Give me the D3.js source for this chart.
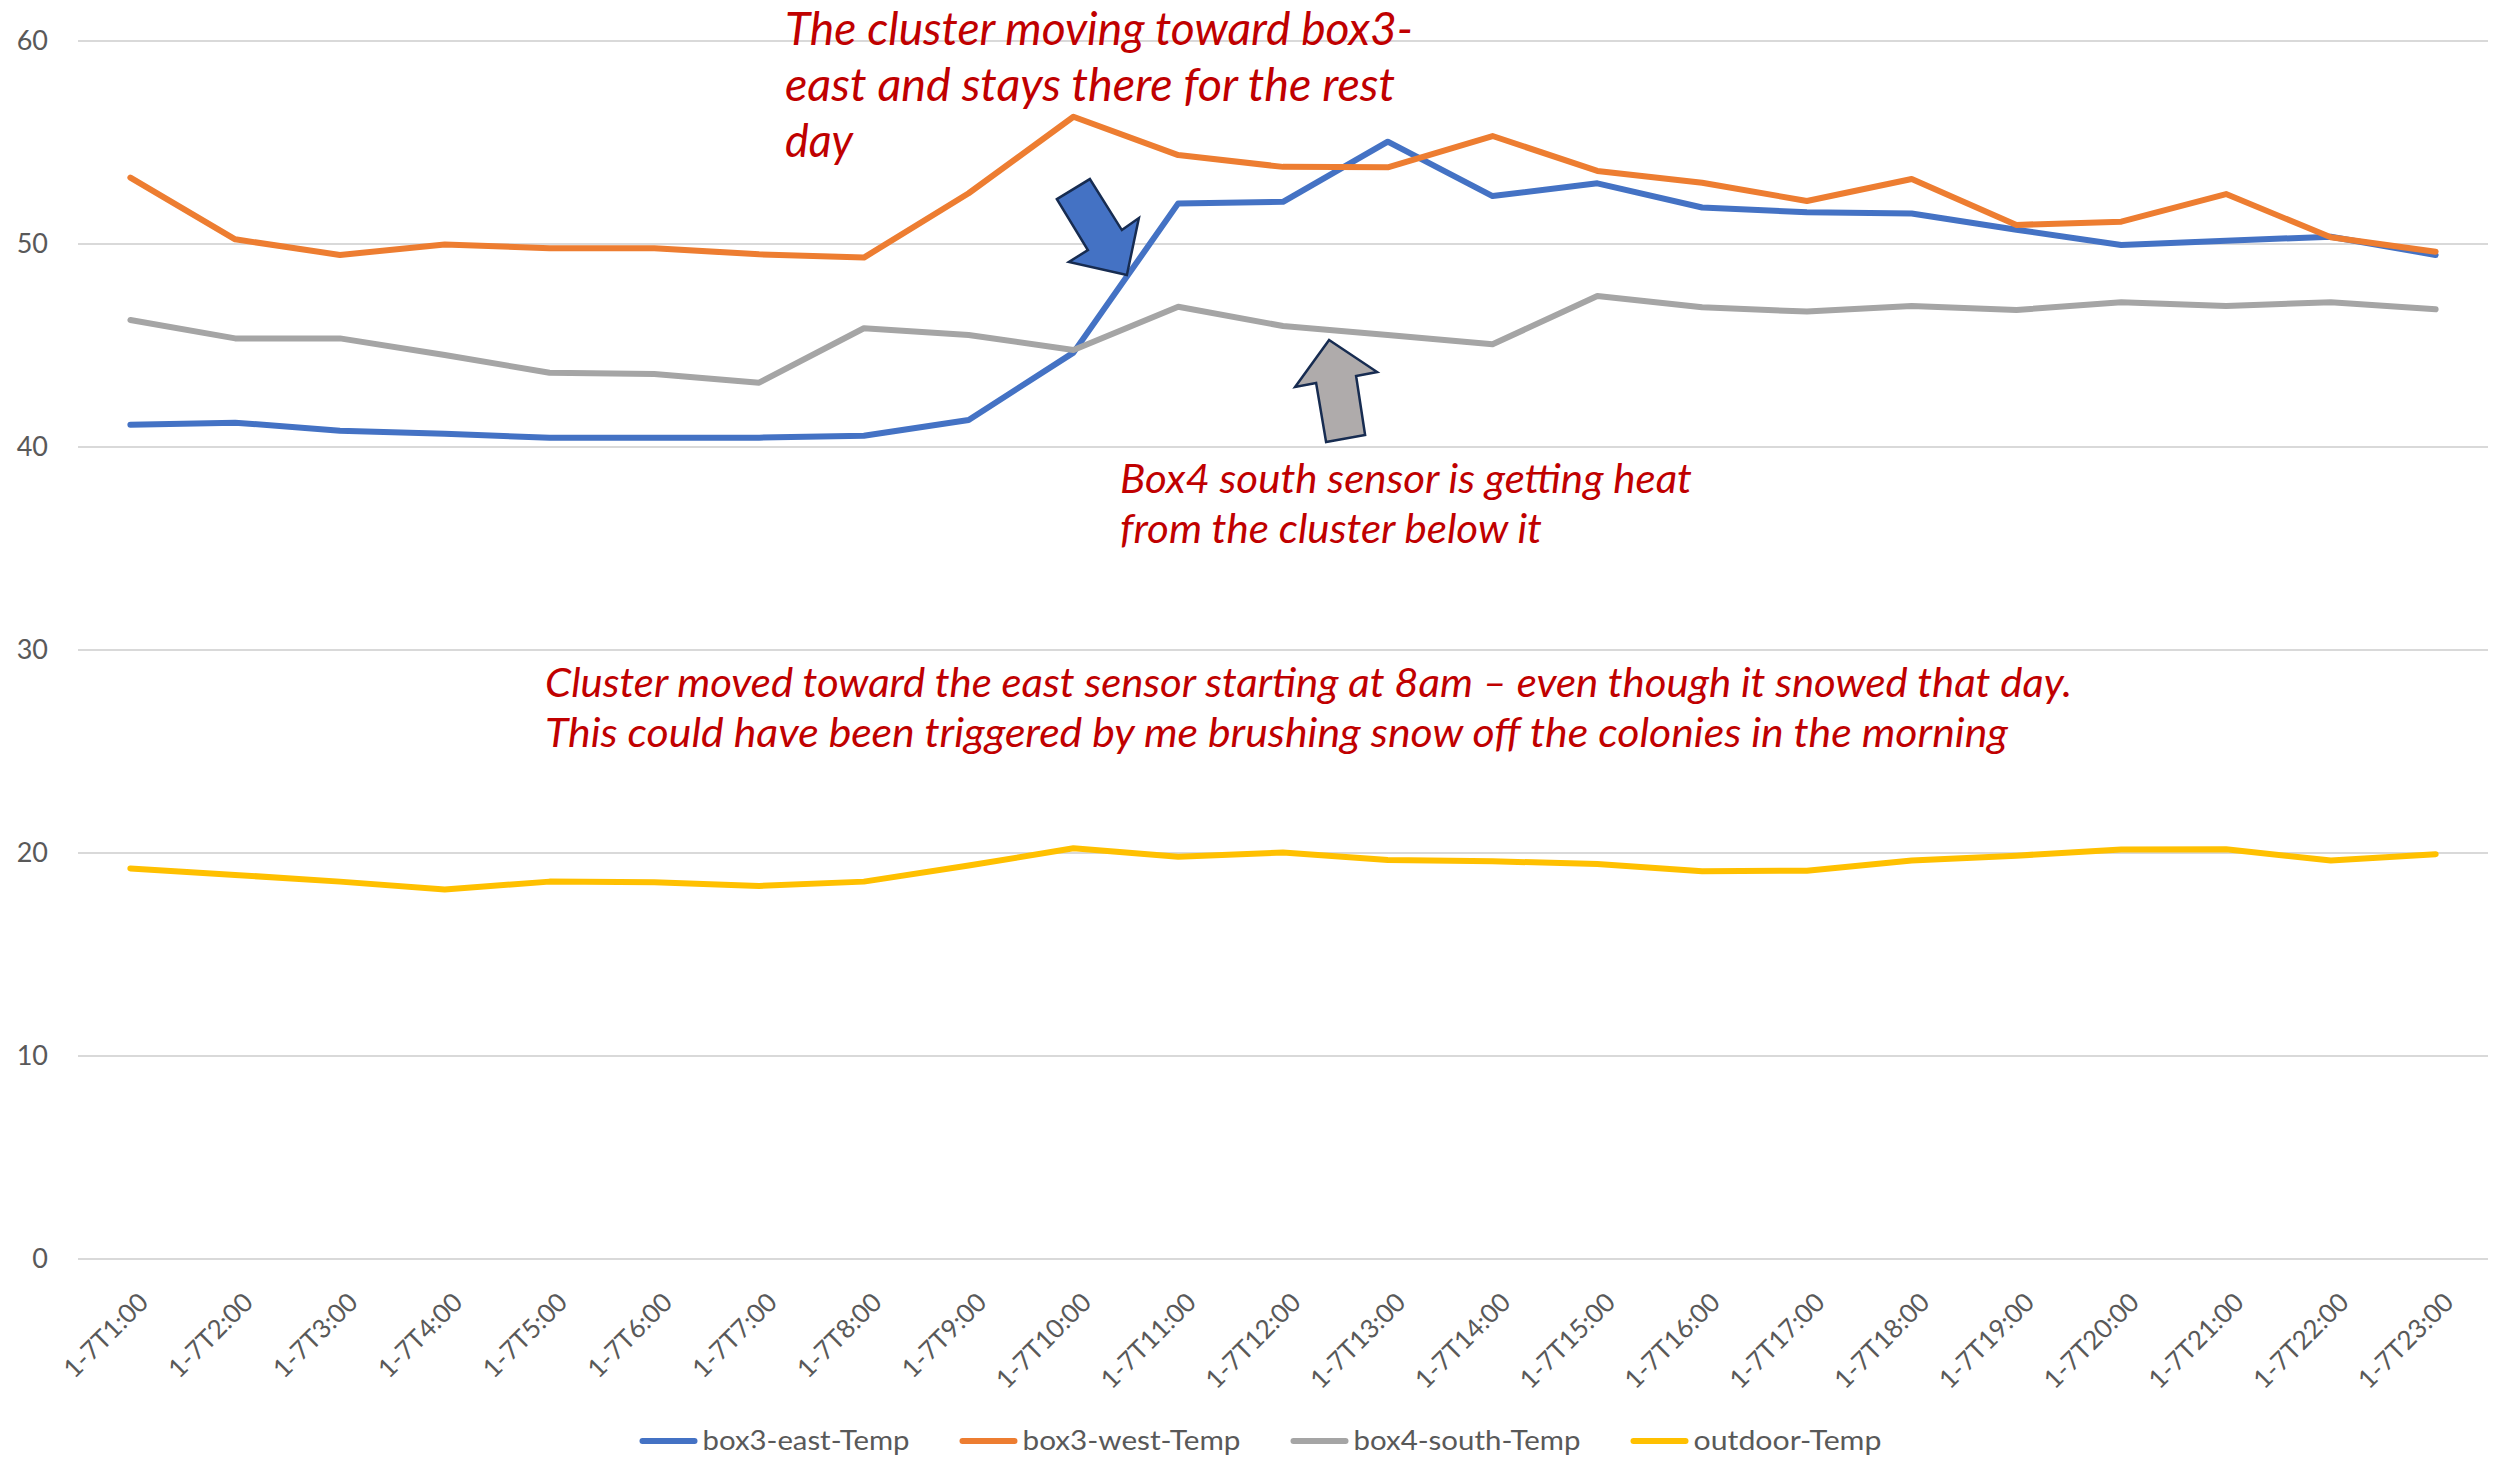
<!DOCTYPE html>
<html>
<head>
<meta charset="utf-8">
<script src="https://cdn.jsdelivr.net/npm/d3@7"></script>
<style>
  html, body { margin: 0; padding: 0; background: #ffffff; }
  svg { display: block; }
</style>
</head>
<body>
<svg id="chart" width="2504" height="1459"></svg>
<script>
// ---------- data ----------
const categories = ["1-7T1:00","1-7T2:00","1-7T3:00","1-7T4:00","1-7T5:00","1-7T6:00","1-7T7:00","1-7T8:00","1-7T9:00","1-7T10:00","1-7T11:00","1-7T12:00","1-7T13:00","1-7T14:00","1-7T15:00","1-7T16:00","1-7T17:00","1-7T18:00","1-7T19:00","1-7T20:00","1-7T21:00","1-7T22:00","1-7T23:00"];

const box3East  = [41.1, 41.2, 40.8, 40.65, 40.45, 40.45, 40.46, 40.55, 41.33, 44.65, 52.0, 52.08, 55.04, 52.36, 52.99, 51.8, 51.56, 51.5, 50.7, 49.95, 50.16, 50.36, 49.46];
const box3West  = [53.27, 50.23, 49.46, 49.98, 49.79, 49.79, 49.49, 49.33, 52.5, 56.27, 54.38, 53.8, 53.78, 55.32, 53.6, 53.02, 52.12, 53.2, 50.94, 51.1, 52.46, 50.33, 49.62];
const box4South = [46.26, 45.35, 45.35, 44.53, 43.66, 43.6, 43.17, 45.85, 45.52, 44.78, 46.91, 45.96, 45.52, 45.06, 47.44, 46.88, 46.67, 46.95, 46.75, 47.13, 46.95, 47.13, 46.78];
const outdoor   = [19.24, 18.92, 18.59, 18.2, 18.59, 18.56, 18.38, 18.59, 19.38, 20.23, 19.82, 20.02, 19.66, 19.59, 19.46, 19.1, 19.13, 19.63, 19.87, 20.17, 20.18, 19.63, 19.94];

const seriesNames  = ["box3-east-Temp", "box3-west-Temp", "box4-south-Temp", "outdoor-Temp"];
const seriesColors = ["#4472C4", "#ED7D31", "#A5A5A5", "#FFC000"];
const seriesValues = [box3East, box3West, box4South, outdoor];

const yTicks = [0, 10, 20, 30, 40, 50, 60];

const note1 = ["The cluster moving toward box3-", "east and stays there for the rest", "day"];
const note2 = ["Box4 south sensor is getting heat", "from the cluster below it"];
const note3 = ["Cluster moved toward the east sensor starting at 8am \u2013 even though it snowed that day.",
               "This could have been triggered by me brushing snow off the colonies in the morning"];

// ---------- layout ----------
const svg = d3.select("#chart");
const W = 2504, H = 1459;
const plot = { left: 78, right: 2488, top: 41, bottom: 1259 };
const FONT = "Lato, 'Open Sans', 'DejaVu Sans', sans-serif";
const textGrey = "#595959";
const noteRed = "#C00000";

svg.append("rect").attr("width", W).attr("height", H).attr("fill", "#fff");

const x = d3.scalePoint().domain(categories).range([plot.left, plot.right]).padding(0.5);
const y = d3.scaleLinear().domain([0, 60]).range([plot.bottom, plot.top]);

// gridlines
svg.append("g")
  .selectAll("line")
  .data(yTicks)
  .join("line")
  .attr("x1", plot.left).attr("x2", plot.right)
  .attr("y1", d => y(d)).attr("y2", d => y(d))
  .attr("stroke", "#D9D9D9").attr("stroke-width", 2);

// y axis
const yAxis = svg.append("g")
  .attr("transform", `translate(${plot.left - 30},0)`)
  .call(d3.axisLeft(y).tickValues(yTicks).tickSize(0).tickPadding(0));
yAxis.select(".domain").remove();
yAxis.selectAll("text")
  .attr("font-family", FONT).attr("font-size", 27).attr("fill", textGrey);

// x axis
const xAxis = svg.append("g")
  .attr("transform", `translate(0,${plot.bottom})`)
  .call(d3.axisBottom(x).tickSize(0));
xAxis.select(".domain").remove();
xAxis.selectAll(".tick text")
  .attr("font-family", FONT).attr("font-size", 26).attr("fill", textGrey)
  .attr("text-anchor", "end")
  .attr("x", 0).attr("y", 0).attr("dy", 0)
  .attr("transform", "translate(19,45) rotate(-45)");

// lines
const lineGen = d3.line()
  .x((d, i) => x(categories[i]))
  .y(d => y(d));

svg.append("g")
  .selectAll("path")
  .data(seriesValues)
  .join("path")
  .attr("d", d => lineGen(d))
  .attr("fill", "none")
  .attr("stroke", (d, i) => seriesColors[i])
  .attr("stroke-width", 6)
  .attr("stroke-linejoin", "round")
  .attr("stroke-linecap", "round");

// legend
const legendW = [207, 218, 227, 188];
const legendY = 1441;
const swatch = 52, swGap = 8, itemGap = 53;
let total = 0;
legendW.forEach((w, i) => { total += swatch + swGap + w + (i < legendW.length - 1 ? itemGap : 0); });
let lx = 1262 - total / 2;
const legend = svg.append("g");
seriesNames.forEach((name, i) => {
  legend.append("line")
    .attr("x1", lx).attr("x2", lx + swatch)
    .attr("y1", legendY).attr("y2", legendY)
    .attr("stroke", seriesColors[i]).attr("stroke-width", 6).attr("stroke-linecap", "round");
  legend.append("text")
    .attr("x", lx + swatch + swGap).attr("y", legendY + 9)
    .attr("font-family", FONT).attr("font-size", 26).attr("fill", textGrey)
    .attr("textLength", legendW[i]).attr("lengthAdjust", "spacingAndGlyphs")
    .text(name);
  lx += swatch + swGap + legendW[i] + itemGap;
});

// annotations: text blocks
function note(lines, x0, baselines, size, widths) {
  const g = svg.append("g");
  lines.forEach((t, i) => {
    g.append("text")
      .attr("x", x0).attr("y", baselines[i])
      .attr("font-family", FONT).attr("font-style", "italic")
      .attr("font-size", size).attr("fill", noteRed)
      .attr("textLength", widths[i]).attr("lengthAdjust", "spacingAndGlyphs")
      .text(t);
  });
}
note(note1, 785, [45, 101, 157], 46, [628, 610, 68]);
note(note2, 1120, [493, 543], 40, [572, 422]);
note(note3, 545, [697, 747], 40, [1527, 1463]);

// annotations: arrows, anchored at a point in data space
const blueArrowTip = { idx: 9.51, value: 48.47 };
const greyArrowTip = { idx: 11.44, value: 45.27 };
const blueArrowShape = [[-70,-76],[-37,-96],[-5,-45],[12,-57],[0,0],[-58,-13],[-39,-25]];
const greyArrowShape = [[0,0],[48,32],[27,36],[36,95],[-3,102],[-13,43],[-34,47]];
const step = x.step();
function arrow(tip, shape, fill) {
  const tx = x(categories[0]) + tip.idx * step;
  const ty = y(tip.value);
  svg.append("path")
    .attr("d", "M" + shape.map(p => [tx + p[0], ty + p[1]].join(",")).join("L") + "Z")
    .attr("fill", fill)
    .attr("stroke", "#172C51").attr("stroke-width", 2.5).attr("stroke-linejoin", "miter");
}
arrow(blueArrowTip, blueArrowShape, "#4472C4");
arrow(greyArrowTip, greyArrowShape, "#AFABAB");
</script>
</body>
</html>
